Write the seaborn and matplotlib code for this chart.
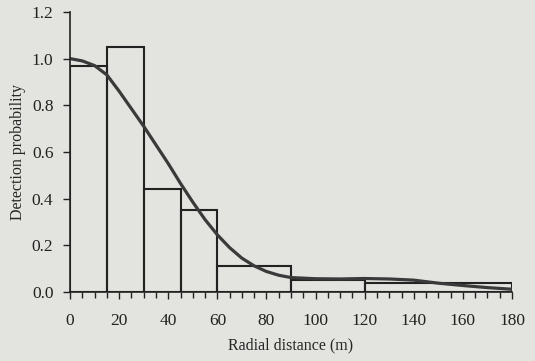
import numpy as np
import pandas as pd
import seaborn as sns
import matplotlib.pyplot as plt
from matplotlib.ticker import MultipleLocator

# Histograma: limites de clases y alturas
bin_edges = [0, 15, 30, 45, 60, 90, 120, 180]
bar_heights = [0.97, 1.05, 0.44, 0.35, 0.11, 0.05, 0.04]

# Curva ajustada
curve_x = [0, 5, 10, 15, 20, 25, 30, 35, 40, 45, 50, 55, 60, 65, 70, 75, 80,
           85, 90, 100, 110, 120, 130, 140, 150, 160, 170, 180]
curve_y = [1.0, 0.99, 0.97, 0.93, 0.86, 0.785, 0.71, 0.63, 0.55, 0.465, 0.385,
           0.31, 0.245, 0.19, 0.145, 0.112, 0.088, 0.072, 0.062, 0.057, 0.056,
           0.058, 0.056, 0.051, 0.038, 0.028, 0.019, 0.012]

bg = '#e3e3df'
sns.set_style('ticks')
plt.rcParams['font.family'] = ['Liberation Serif', 'DejaVu Serif']

fig = plt.figure(figsize=(5.35, 3.61), dpi=100, facecolor=bg)
ax = fig.add_axes([0.131, 0.191, 0.826, 0.776])
ax.set_facecolor(bg)

mids = [(a + b) / 2 for a, b in zip(bin_edges[:-1], bin_edges[1:])]
hist = pd.DataFrame({'x': mids, 'h': bar_heights})
sns.histplot(data=hist, x='x', weights='h', bins=bin_edges, stat='count',
             fill=False, color='#222222', linewidth=1.5, ax=ax)

curve = pd.DataFrame({'x': curve_x, 'y': curve_y})
sns.lineplot(data=curve, x='x', y='y', color='#3a3a3a', linewidth=2.3, ax=ax)

ax.set_xlim(0, 180)
ax.set_ylim(0, 1.2)
ax.xaxis.set_major_locator(MultipleLocator(20))
ax.xaxis.set_minor_locator(MultipleLocator(5))
ax.yaxis.set_major_locator(MultipleLocator(0.2))
ax.yaxis.set_major_formatter(plt.FuncFormatter(lambda v, p: f'{v:.1f}'))
ax.tick_params(axis='both', which='both', direction='out', length=5, width=1,
               colors='#222222', labelsize=12.5)
ax.tick_params(axis='x', which='both', pad=10)
ax.tick_params(axis='y', pad=7)
ax.tick_params(axis='x', which='minor', length=4)

sns.despine(ax=ax)
for s in ['left', 'bottom']:
    ax.spines[s].set_color('#222222')
    ax.spines[s].set_linewidth(1.2)

ax.set_xlabel('Radial distance (m)', fontsize=11.5, labelpad=6)
ax.set_ylabel('Detection probability', fontsize=11.5, labelpad=4)

fig.savefig('out.png', dpi=100, facecolor=bg)
